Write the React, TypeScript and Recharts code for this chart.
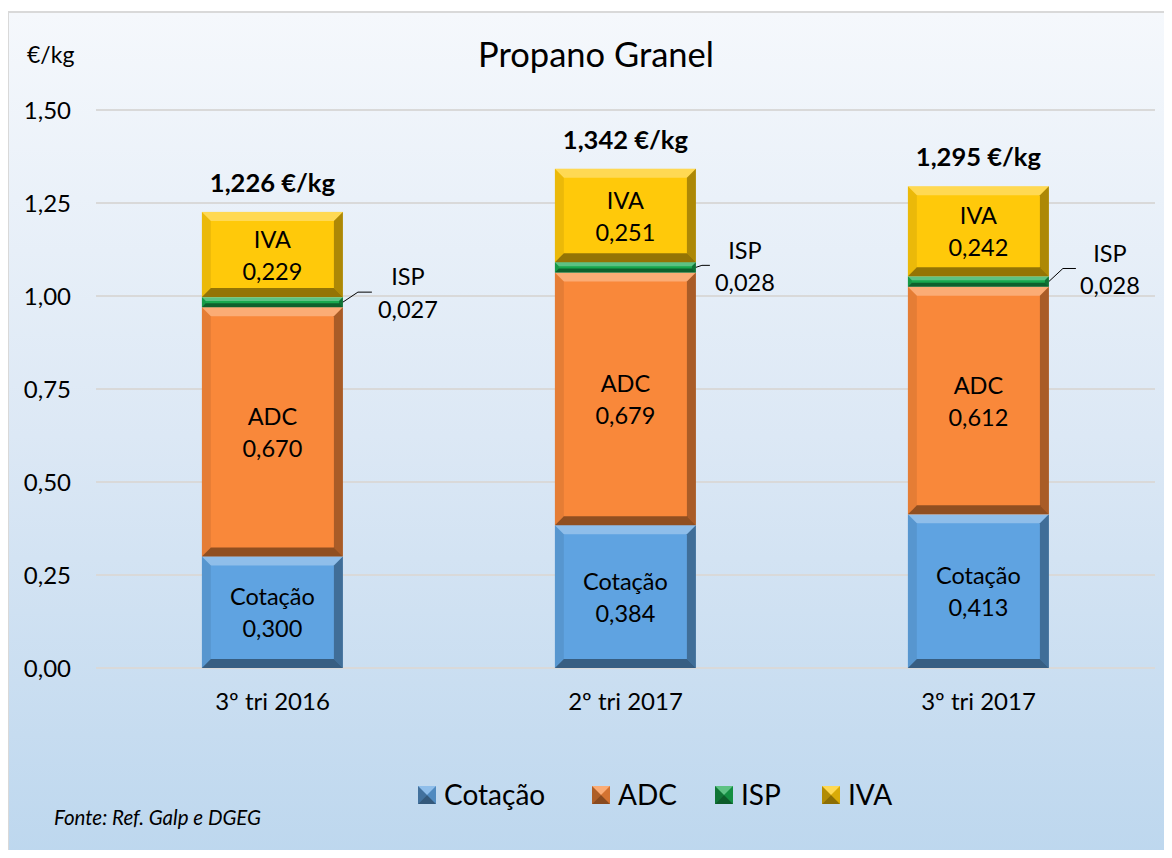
import React from 'react';
import { BarChart, Bar, XAxis, YAxis, CartesianGrid, LabelList } from 'recharts';

const categories = ['3º tri 2016', '2º tri 2017', '3º tri 2017'];
const cotacao = [0.3, 0.384, 0.413];
const adc = [0.67, 0.679, 0.612];
const isp = [0.027, 0.028, 0.028];
const iva = [0.229, 0.251, 0.242];
const totals = [1.226, 1.342, 1.295];
const yTicks = [0, 0.25, 0.5, 0.75, 1, 1.25, 1.5];

const seriesNames = ['Cotação', 'ADC', 'ISP', 'IVA'];
const seriesColors = ['#5FA3E1', '#F9883A', '#18A84E', '#FFC90A'];

// layout for ISP callouts (relative to bar right edge / ISP segment centre)
const ispCallout = [
  { ex: 15, ey: -10, lx: 29, tx: 65, t1: -25, t2: 8 },
  { ex: 6, ey: -2, lx: 14, tx: 49, t1: -17, t2: 15 },
  { ex: 14, ey: -13, lx: 27, tx: 61, t1: -28, t2: 4 },
];

const data = categories.map((c, i) => ({
  cat: c,
  cot: cotacao[i],
  adc: adc[i],
  isp: isp[i],
  iva: iva[i],
}));

const FONT = 'Lato, "Open Sans", sans-serif';
const fmt3 = (v: number) => v.toFixed(3).replace('.', ',');
const fmt2 = (v: number) => v.toFixed(2).replace('.', ',');

const BevelShape = (props: any) => {
  const { x, y, width: w, height: h, fill } = props;
  if (!h || h <= 0) return null;
  const d = Math.min(9, h / 2.6);
  return (
    <g>
      <rect x={x} y={y} width={w} height={h} fill={fill} />
      <polygon points={`${x},${y} ${x + w},${y} ${x + w - d},${y + d} ${x + d},${y + d}`} fill="#fff" fillOpacity={0.3} />
      <polygon points={`${x},${y} ${x + d},${y + d} ${x + d},${y + h - d} ${x},${y + h}`} fill="#000" fillOpacity={0.08} />
      <polygon points={`${x + w},${y} ${x + w},${y + h} ${x + w - d},${y + h - d} ${x + w - d},${y + d}`} fill="#000" fillOpacity={0.32} />
      <polygon points={`${x},${y + h} ${x + w},${y + h} ${x + w - d},${y + h - d} ${x + d},${y + h - d}`} fill="#000" fillOpacity={0.42} />
    </g>
  );
};

const makeInside = (name: string, arr: number[]) => (props: any) => {
  const { x, y, width, height, index } = props;
  const cx = x + width / 2;
  const cy = y + height / 2;
  return (
    <text textAnchor="middle" fontSize={23.5} fontFamily={FONT} fill="#000">
      <tspan x={cx} y={cy - 15} dy="0.35em">{name}</tspan>
      <tspan x={cx} y={cy + 17} dy="0.35em">{fmt3(arr[index])}</tspan>
    </text>
  );
};

const IspLabel = (props: any) => {
  const { x, y, width, height, index } = props;
  const rx = x + width;
  const cy = y + height / 2;
  const c = ispCallout[index];
  return (
    <g>
      <polyline points={`${rx},${cy} ${rx + c.ex},${cy + c.ey} ${rx + c.lx},${cy + c.ey}`} fill="none" stroke="#000" strokeWidth={1} />
      <text textAnchor="middle" fontSize={23.5} fontFamily={FONT} fill="#000">
        <tspan x={rx + c.tx} y={cy + c.t1} dy="0.35em">ISP</tspan>
        <tspan x={rx + c.tx} y={cy + c.t2} dy="0.35em">{fmt3(isp[index])}</tspan>
      </text>
    </g>
  );
};

const TotalLabel = (props: any) => {
  const { x, y, width, index } = props;
  return (
    <text x={x + width / 2} y={y - 29} dy="0.35em" textAnchor="middle" fontSize={25.5} fontWeight="bold" fontFamily={FONT} fill="#000">
      {fmt3(totals[index])} €/kg
    </text>
  );
};

const LegendIcon = ({ x, y, color }: { x: number; y: number; color: string }) => {
  const s = 18;
  const m = s / 2;
  return (
    <g>
      <rect x={x} y={y} width={s} height={s} fill={color} />
      <polygon points={`${x},${y} ${x + s},${y} ${x + m},${y + m}`} fill="#fff" fillOpacity={0.3} />
      <polygon points={`${x},${y} ${x + m},${y + m} ${x},${y + s}`} fill="#000" fillOpacity={0.3} />
      <polygon points={`${x + s},${y} ${x + s},${y + s} ${x + m},${y + m}`} fill="#000" fillOpacity={0.15} />
      <polygon points={`${x},${y + s} ${x + s},${y + s} ${x + m},${y + m}`} fill="#000" fillOpacity={0.45} />
    </g>
  );
};

const legendX = [418, 592, 715, 822];

export default function App() {
  return (
    <div style={{ margin: -8, width: 1172, height: 858, position: 'relative', background: '#fff', overflow: 'hidden' }}>
      <div
        style={{
          position: 'absolute',
          left: 7,
          top: 11,
          width: 1172 - 7,
          height: 858 - 11,
          boxSizing: 'border-box',
          borderLeft: '2px solid #D9D9D9',
          borderTop: '2px solid #D9D9D9',
          background: 'linear-gradient(to bottom, #F5F8FC 0%, #DCE8F5 50%, #BDD7EE 100%)',
        }}
      />
      <div style={{ position: 'absolute', left: 0, top: 0 }}>
        <BarChart
          width={1172}
          height={858}
          data={data}
          margin={{ top: 110, right: 17, bottom: 130, left: 0 }}
          barCategoryGap="30%"
        >
          <CartesianGrid vertical={false} stroke="#D9D9D9" strokeWidth={2} />
          <XAxis
            dataKey="cat"
            height={60}
            axisLine={false}
            tickLine={false}
            tickSize={0}
            tickMargin={25}
            tick={{ fill: '#000', fontSize: 24, fontFamily: FONT }}
          />
          <YAxis
            width={96}
            domain={[0, 1.5]}
            ticks={yTicks}
            tickFormatter={fmt2}
            axisLine={false}
            tickLine={false}
            tickSize={0}
            tickMargin={25}
            tick={{ fill: '#000', fontSize: 24, fontFamily: FONT }}
          />
          <Bar dataKey="cot" stackId="a" fill={seriesColors[0]} shape={BevelShape} isAnimationActive={false}>
            <LabelList dataKey="cot" content={makeInside('Cotação', cotacao)} />
          </Bar>
          <Bar dataKey="adc" stackId="a" fill={seriesColors[1]} shape={BevelShape} isAnimationActive={false}>
            <LabelList dataKey="adc" content={makeInside('ADC', adc)} />
          </Bar>
          <Bar dataKey="isp" stackId="a" fill={seriesColors[2]} shape={BevelShape} isAnimationActive={false}>
            <LabelList dataKey="isp" content={IspLabel} />
          </Bar>
          <Bar dataKey="iva" stackId="a" fill={seriesColors[3]} shape={BevelShape} isAnimationActive={false}>
            <LabelList dataKey="iva" content={makeInside('IVA', iva)} />
            <LabelList dataKey="iva" content={TotalLabel} />
          </Bar>
        </BarChart>
      </div>
      <svg width={1172} height={858} style={{ position: 'absolute', left: 0, top: 0, pointerEvents: 'none' }}>
        <text x={596} y={55} dy="0.35em" textAnchor="middle" fontSize={34.5} fontFamily={FONT} fill="#000">
          Propano Granel
        </text>
        <text x={27} y={55} dy="0.35em" fontSize={23} fontFamily={FONT} fill="#000">
          €/kg
        </text>
        <text x={54} y={818} dy="0.35em" fontSize={20.5} fontStyle="italic" fontFamily={FONT} fill="#000">
          Fonte: Ref. Galp e DGEG
        </text>
        {seriesNames.map((n, i) => (
          <g key={n}>
            <LegendIcon x={legendX[i]} y={786} color={seriesColors[i]} />
            <text x={legendX[i] + 26} y={795} dy="0.35em" fontSize={28} fontFamily={FONT} fill="#000">
              {n}
            </text>
          </g>
        ))}
      </svg>
    </div>
  );
}
